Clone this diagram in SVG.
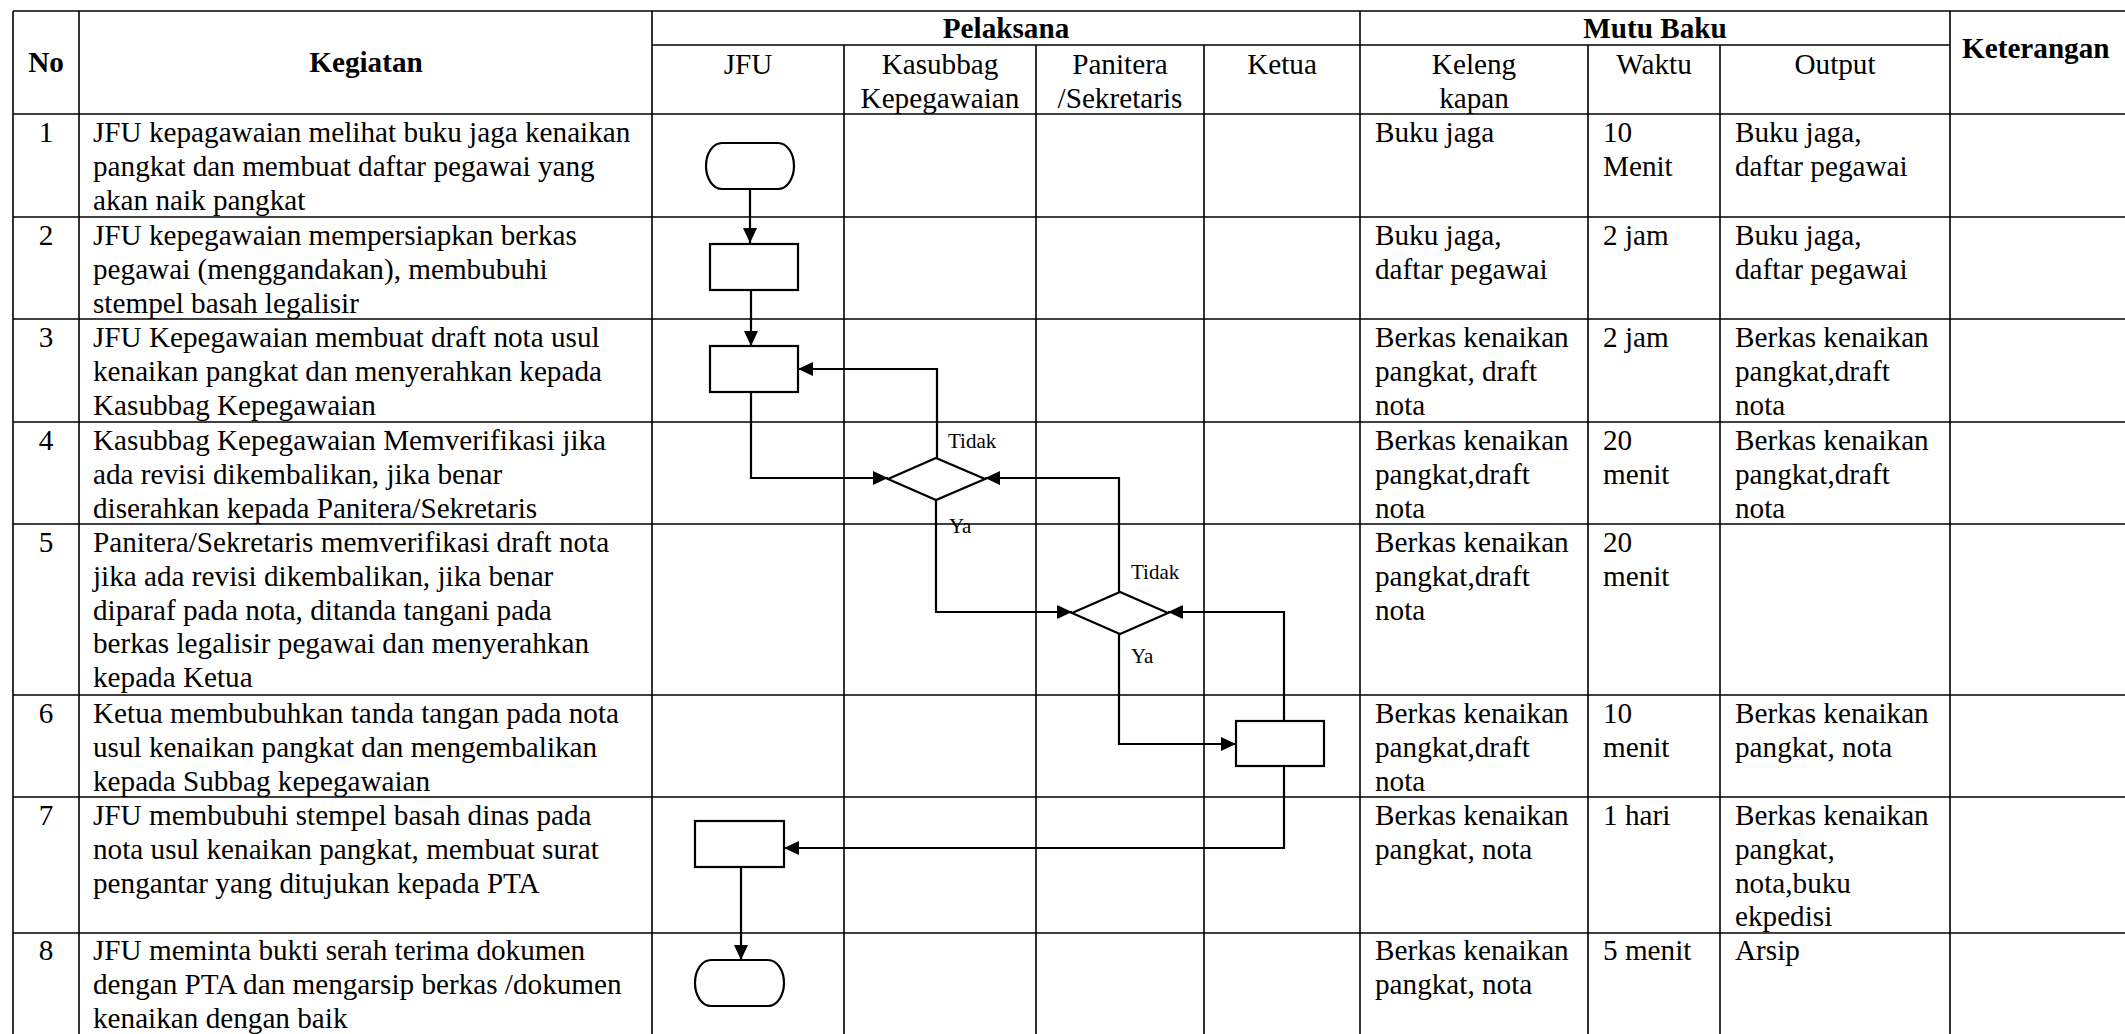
<svg xmlns="http://www.w3.org/2000/svg" width="2125" height="1034" viewBox="0 0 2125 1034">
<defs>
<style>
.g{stroke:#000;stroke-width:1.6;fill:none}
.s{stroke:#000;stroke-width:2.2;fill:#fff}
.c{stroke:#000;stroke-width:2.2;fill:none}
text{font-family:"Liberation Serif","Times New Roman",serif;font-size:29.2px;fill:#000}
.b{font-weight:bold}
.m{text-anchor:middle}
.l{font-size:21px}
</style>
<marker id="ah" markerUnits="userSpaceOnUse" markerWidth="16" markerHeight="16" refX="15" refY="7" orient="auto">
<path d="M0,0 L15,7 L0,14 z" fill="#000"/>
</marker>
</defs>
<rect x="0" y="0" width="2125" height="1034" fill="#fff"/>
<g id="grid" class="g">
<line x1="13" y1="11" x2="2125" y2="11"/>
<line x1="652" y1="45" x2="1950" y2="45"/>
<line x1="13" y1="114" x2="2125" y2="114"/>
<line x1="13" y1="217" x2="2125" y2="217"/>
<line x1="13" y1="319" x2="2125" y2="319"/>
<line x1="13" y1="422" x2="2125" y2="422"/>
<line x1="13" y1="524" x2="2125" y2="524"/>
<line x1="13" y1="695" x2="2125" y2="695"/>
<line x1="13" y1="797" x2="2125" y2="797"/>
<line x1="13" y1="933" x2="2125" y2="933"/>
<line x1="13" y1="11" x2="13" y2="1034"/>
<line x1="79" y1="11" x2="79" y2="1034"/>
<line x1="652" y1="11" x2="652" y2="1034"/>
<line x1="844" y1="45" x2="844" y2="1034"/>
<line x1="1036" y1="45" x2="1036" y2="1034"/>
<line x1="1204" y1="45" x2="1204" y2="1034"/>
<line x1="1360" y1="11" x2="1360" y2="1034"/>
<line x1="1588" y1="45" x2="1588" y2="1034"/>
<line x1="1720" y1="45" x2="1720" y2="1034"/>
<line x1="1950" y1="11" x2="1950" y2="1034"/>
</g>
<g id="header">
<text class="b m" x="46" y="72">No</text>
<text class="b m" x="366" y="72">Kegiatan</text>
<text class="b m" x="1006" y="38">Pelaksana</text>
<text class="b m" x="1655" y="38">Mutu Baku</text>
<text class="b" x="1962" y="58">Keterangan</text>
<text class="m" x="748" y="74">JFU</text>
<text class="m" x="940" y="74">Kasubbag<tspan x="940" dy="33.8">Kepegawaian</tspan></text>
<text class="m" x="1120" y="74">Panitera<tspan x="1120" dy="33.8">/Sekretaris</tspan></text>
<text class="m" x="1282" y="74">Ketua</text>
<text class="m" x="1474" y="74">Keleng<tspan x="1474" dy="33.8">kapan</tspan></text>
<text class="m" x="1654" y="74">Waktu</text>
<text class="m" x="1835" y="74">Output</text>
</g>
<g id="rows">
<text class="m" x="46" y="142">1</text>
<text x="93" y="142">JFU kepagawaian melihat buku jaga kenaikan<tspan x="93" dy="33.8">pangkat dan membuat daftar pegawai yang</tspan><tspan x="93" dy="33.8">akan naik pangkat</tspan></text>
<text x="1375" y="142">Buku jaga</text>
<text x="1603" y="142">10<tspan x="1603" dy="33.8">Menit</tspan></text>
<text x="1735" y="142">Buku jaga,<tspan x="1735" dy="33.8">daftar pegawai</tspan></text>

<text class="m" x="46" y="245">2</text>
<text x="93" y="245">JFU kepegawaian mempersiapkan berkas<tspan x="93" dy="33.8">pegawai (menggandakan), membubuhi</tspan><tspan x="93" dy="33.8">stempel basah legalisir</tspan></text>
<text x="1375" y="245">Buku jaga,<tspan x="1375" dy="33.8">daftar pegawai</tspan></text>
<text x="1603" y="245">2 jam</text>
<text x="1735" y="245">Buku jaga,<tspan x="1735" dy="33.8">daftar pegawai</tspan></text>

<text class="m" x="46" y="347">3</text>
<text x="93" y="347">JFU Kepegawaian membuat draft nota usul<tspan x="93" dy="33.8">kenaikan pangkat dan menyerahkan kepada</tspan><tspan x="93" dy="33.8">Kasubbag Kepegawaian</tspan></text>
<text x="1375" y="347">Berkas kenaikan<tspan x="1375" dy="33.8">pangkat, draft</tspan><tspan x="1375" dy="33.8">nota</tspan></text>
<text x="1603" y="347">2 jam</text>
<text x="1735" y="347">Berkas kenaikan<tspan x="1735" dy="33.8">pangkat,draft</tspan><tspan x="1735" dy="33.8">nota</tspan></text>

<text class="m" x="46" y="450">4</text>
<text x="93" y="450">Kasubbag Kepegawaian Memverifikasi jika<tspan x="93" dy="33.8">ada revisi dikembalikan, jika benar</tspan><tspan x="93" dy="33.8">diserahkan kepada Panitera/Sekretaris</tspan></text>
<text x="1375" y="450">Berkas kenaikan<tspan x="1375" dy="33.8">pangkat,draft</tspan><tspan x="1375" dy="33.8">nota</tspan></text>
<text x="1603" y="450">20<tspan x="1603" dy="33.8">menit</tspan></text>
<text x="1735" y="450">Berkas kenaikan<tspan x="1735" dy="33.8">pangkat,draft</tspan><tspan x="1735" dy="33.8">nota</tspan></text>

<text class="m" x="46" y="552">5</text>
<text x="93" y="552">Panitera/Sekretaris memverifikasi draft nota<tspan x="93" dy="33.8">jika ada revisi dikembalikan, jika benar</tspan><tspan x="93" dy="33.8">diparaf pada nota, ditanda tangani pada</tspan><tspan x="93" dy="33.8">berkas legalisir pegawai dan menyerahkan</tspan><tspan x="93" dy="33.8">kepada Ketua</tspan></text>
<text x="1375" y="552">Berkas kenaikan<tspan x="1375" dy="33.8">pangkat,draft</tspan><tspan x="1375" dy="33.8">nota</tspan></text>
<text x="1603" y="552">20<tspan x="1603" dy="33.8">menit</tspan></text>

<text class="m" x="46" y="723">6</text>
<text x="93" y="723">Ketua membubuhkan tanda tangan pada nota<tspan x="93" dy="33.8">usul kenaikan pangkat dan mengembalikan</tspan><tspan x="93" dy="33.8">kepada Subbag kepegawaian</tspan></text>
<text x="1375" y="723">Berkas kenaikan<tspan x="1375" dy="33.8">pangkat,draft</tspan><tspan x="1375" dy="33.8">nota</tspan></text>
<text x="1603" y="723">10<tspan x="1603" dy="33.8">menit</tspan></text>
<text x="1735" y="723">Berkas kenaikan<tspan x="1735" dy="33.8">pangkat, nota</tspan></text>

<text class="m" x="46" y="825">7</text>
<text x="93" y="825">JFU membubuhi stempel basah dinas pada<tspan x="93" dy="33.8">nota usul kenaikan pangkat, membuat surat</tspan><tspan x="93" dy="33.8">pengantar yang ditujukan kepada PTA</tspan></text>
<text x="1375" y="825">Berkas kenaikan<tspan x="1375" dy="33.8">pangkat, nota</tspan></text>
<text x="1603" y="825">1 hari</text>
<text x="1735" y="825">Berkas kenaikan<tspan x="1735" dy="33.8">pangkat,</tspan><tspan x="1735" dy="33.8">nota,buku</tspan><tspan x="1735" dy="33.8">ekpedisi</tspan></text>

<text class="m" x="46" y="960">8</text>
<text x="93" y="960">JFU meminta bukti serah terima dokumen<tspan x="93" dy="33.8">dengan PTA dan mengarsip berkas /dokumen</tspan><tspan x="93" dy="33.8">kenaikan dengan baik</tspan></text>
<text x="1375" y="960">Berkas kenaikan<tspan x="1375" dy="33.8">pangkat, nota</tspan></text>
<text x="1603" y="960">5 menit</text>
<text x="1735" y="960">Arsip</text>
</g>
<g id="connectors" class="c">
<path d="M750,189 V243" marker-end="url(#ah)"/>
<path d="M751,290 V346" marker-end="url(#ah)"/>
<path d="M751,392 V478 H888" marker-end="url(#ah)"/>
<path d="M937,458 V369 H798" marker-end="url(#ah)"/>
<path d="M936,500 V612 H1072" marker-end="url(#ah)"/>
<path d="M1119,592 V478 H985" marker-end="url(#ah)"/>
<path d="M1119,634 V744 H1236" marker-end="url(#ah)"/>
<path d="M1284,720 V612 H1168" marker-end="url(#ah)"/>
<path d="M1284,766 V848 H784" marker-end="url(#ah)"/>
<path d="M741,867 V960" marker-end="url(#ah)"/>
</g>
<g id="labels">
<text class="l" x="948" y="448">Tidak</text>
<text class="l" x="949" y="533">Ya</text>
<text class="l" x="1131" y="579">Tidak</text>
<text class="l" x="1131" y="663">Ya</text>
</g>
<g id="n1"><rect class="s" x="706" y="143" width="88" height="46" rx="16" ry="23"/></g>
<g id="n2"><rect class="s" x="710" y="244" width="88" height="46"/></g>
<g id="n3"><rect class="s" x="710" y="346" width="88" height="46"/></g>
<g id="n4"><polygon class="s" points="888,479 936,458 985,479 936,500"/></g>
<g id="n5"><polygon class="s" points="1072,613 1120,592 1168,613 1120,634"/></g>
<g id="n6"><rect class="s" x="1236" y="721" width="88" height="45"/></g>
<g id="n7"><rect class="s" x="695" y="821" width="89" height="46"/></g>
<g id="n8"><rect class="s" x="695" y="960" width="89" height="46" rx="16" ry="23"/></g>
</svg>
